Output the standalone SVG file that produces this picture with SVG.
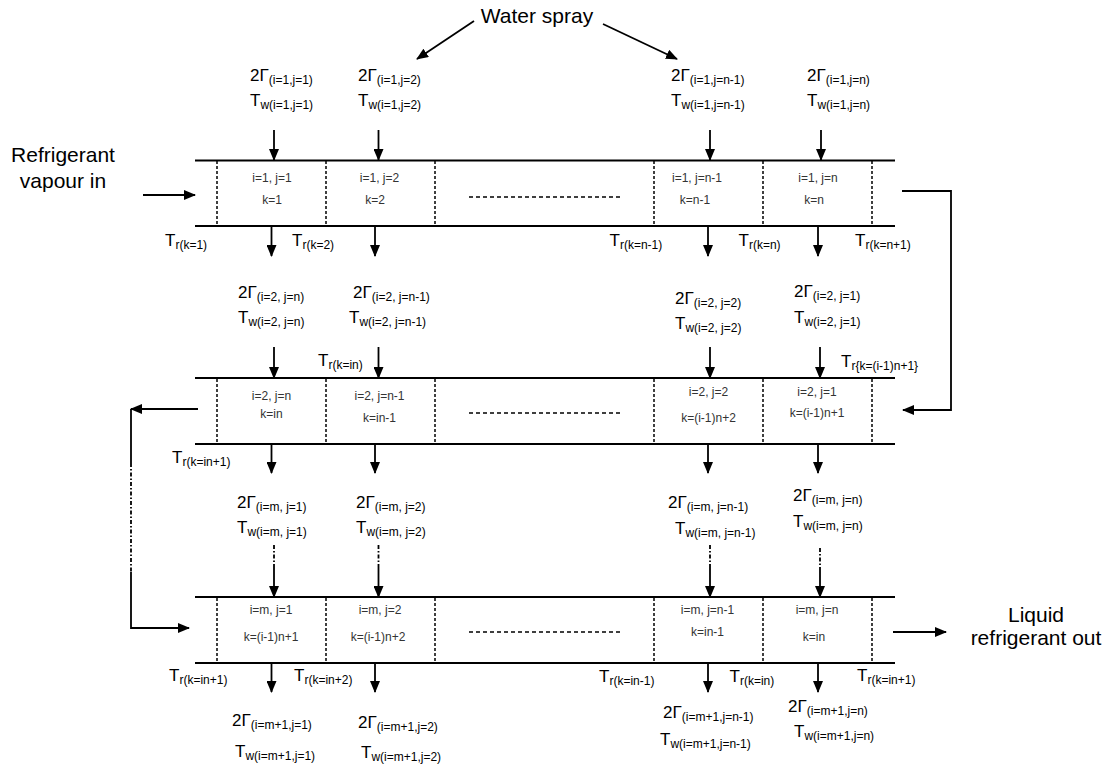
<svg xmlns="http://www.w3.org/2000/svg" width="1116" height="767" viewBox="0 0 1116 767">
<style>
text{font-family:"Liberation Sans",Arial,sans-serif;fill:#000}
.big{font-size:21px;text-anchor:middle}
.lbl{font-size:17px}
.sub{font-size:12px}
.cell{font-size:12px;fill:#333;text-anchor:middle}
.pipe{stroke:#000;stroke-width:2;fill:none}
.div{stroke:#000;stroke-width:1.5;stroke-dasharray:3 2;fill:none}
.fill{stroke:#000;stroke-width:1.5;stroke-dasharray:4 3;fill:none}
.arr{stroke:#000;stroke-width:1.8;fill:none;marker-end:url(#ah)}
.ln{stroke:#000;stroke-width:1.8;fill:none}
.dl{stroke:#000;stroke-width:1.8;fill:none;stroke-dasharray:4 2 1.5 2}
</style>
<defs>
<marker id="ah" viewBox="0 0 12 10" markerWidth="12" markerHeight="10" refX="11" refY="5" orient="auto" markerUnits="userSpaceOnUse">
<path d="M0,0 L12,5 L0,10 z" fill="#000"/>
</marker>
</defs>
<rect width="1116" height="767" fill="#fff"/>

<g id="label-water-spray"><text class="big" x="537" y="23">Water spray</text></g>
<g id="label-inlet"><text class="big" x="63" y="162">Refrigerant</text><text class="big" x="63" y="188">vapour in</text></g>
<g id="label-outlet"><text class="big" x="1036" y="622">Liquid</text><text class="big" x="1036" y="645">refrigerant out</text></g>

<g id="row1">
<line class="pipe" x1="195" y1="160.5" x2="895" y2="160.5"/>
<line class="pipe" x1="195" y1="226" x2="895" y2="226"/>
<path class="div" d="M217,161V226M326,161V226M435,161V226M654,161V226M763,161V226M872,161V226"/>
<line class="fill" x1="469" y1="197" x2="623" y2="197"/>
<g id="cell-1-1"><text class="cell" x="272" y="182">i=1, j=1</text><text class="cell" x="272" y="204">k=1</text></g>
<g id="cell-1-2"><text class="cell" x="379.5" y="182">i=1, j=2</text><text class="cell" x="375" y="204">k=2</text></g>
<g id="cell-1-n-1"><text class="cell" x="697" y="182">i=1, j=n-1</text><text class="cell" x="695" y="204">k=n-1</text></g>
<g id="cell-1-n"><text class="cell" x="818" y="182">i=1, j=n</text><text class="cell" x="814" y="204">k=n</text></g>
</g>

<g id="row2">
<line class="pipe" x1="195" y1="378" x2="895" y2="378"/>
<line class="pipe" x1="195" y1="444" x2="895" y2="444"/>
<path class="div" d="M217,379V444M326,379V444M435,379V444M654,379V444M763,379V444M872,379V444"/>
<line class="fill" x1="469" y1="413" x2="623" y2="413"/>
<g id="cell-2-n"><text class="cell" x="271.5" y="400">i=2, j=n</text><text class="cell" x="271.5" y="418">k=in</text></g>
<g id="cell-2-n-1"><text class="cell" x="379.5" y="400">i=2, j=n-1</text><text class="cell" x="379.5" y="422">k=in-1</text></g>
<g id="cell-2-2"><text class="cell" x="708.5" y="396">i=2, j=2</text><text class="cell" x="708.5" y="422">k=(i-1)n+2</text></g>
<g id="cell-2-1"><text class="cell" x="817" y="396">i=2, j=1</text><text class="cell" x="817" y="417">k=(i-1)n+1</text></g>
</g>

<g id="row3">
<line class="pipe" x1="195" y1="597" x2="895" y2="597"/>
<line class="pipe" x1="195" y1="663" x2="895" y2="663"/>
<path class="div" d="M217,598V663M326,598V663M435,598V663M654,598V663M763,598V663M872,598V663"/>
<line class="fill" x1="469" y1="632" x2="623" y2="632"/>
<g id="cell-m-1"><text class="cell" x="271" y="614">i=m, j=1</text><text class="cell" x="271" y="641">k=(i-1)n+1</text></g>
<g id="cell-m-2"><text class="cell" x="380" y="614">i=m, j=2</text><text class="cell" x="378" y="641">k=(i-1)n+2</text></g>
<g id="cell-m-n-1"><text class="cell" x="707.5" y="614">i=m, j=n-1</text><text class="cell" x="707.5" y="636">k=in-1</text></g>
<g id="cell-m-n"><text class="cell" x="817" y="614">i=m, j=n</text><text class="cell" x="814" y="641">k=in</text></g>
</g>

<g id="labels-row1-in">
<text class="lbl" x="250" y="81">2Γ<tspan class="sub" dy="3">(i=1,j=1)</tspan></text>
<text class="lbl" x="250" y="106">T<tspan class="sub" dy="3">w(i=1,j=1)</tspan></text>
<text class="lbl" x="358" y="81">2Γ<tspan class="sub" dy="3">(i=1,j=2)</tspan></text>
<text class="lbl" x="358" y="106">T<tspan class="sub" dy="3">w(i=1,j=2)</tspan></text>
<text class="lbl" x="671" y="81">2Γ<tspan class="sub" dy="3">(i=1,j=n-1)</tspan></text>
<text class="lbl" x="671" y="106">T<tspan class="sub" dy="3">w(i=1,j=n-1)</tspan></text>
<text class="lbl" x="807" y="81">2Γ<tspan class="sub" dy="3">(i=1,j=n)</tspan></text>
<text class="lbl" x="807" y="106">T<tspan class="sub" dy="3">w(i=1,j=n)</tspan></text>
</g>

<g id="labels-row1-tr">
<text class="lbl" x="165" y="246">T<tspan class="sub" dy="3">r(k=1)</tspan></text>
<text class="lbl" x="292" y="246">T<tspan class="sub" dy="3">r(k=2)</tspan></text>
<text class="lbl" x="609.5" y="246">T<tspan class="sub" dy="3">r(k=n-1)</tspan></text>
<text class="lbl" x="738.5" y="246">T<tspan class="sub" dy="3">r(k=n)</tspan></text>
<text class="lbl" x="855" y="246">T<tspan class="sub" dy="3">r(k=n+1)</tspan></text>
</g>

<g id="labels-row2-in">
<text class="lbl" x="238" y="298">2Γ<tspan class="sub" dy="3">(i=2, j=n)</tspan></text>
<text class="lbl" x="238" y="323">T<tspan class="sub" dy="3">w(i=2, j=n)</tspan></text>
<text class="lbl" x="353" y="298">2Γ<tspan class="sub" dy="3">(i=2, j=n-1)</tspan></text>
<text class="lbl" x="349" y="323">T<tspan class="sub" dy="3">w(i=2, j=n-1)</tspan></text>
<text class="lbl" x="675" y="304">2Γ<tspan class="sub" dy="3">(i=2, j=2)</tspan></text>
<text class="lbl" x="675" y="329">T<tspan class="sub" dy="3">w(i=2, j=2)</tspan></text>
<text class="lbl" x="794" y="297">2Γ<tspan class="sub" dy="3">(i=2, j=1)</tspan></text>
<text class="lbl" x="794" y="323">T<tspan class="sub" dy="3">w(i=2, j=1)</tspan></text>
<text class="lbl" x="318" y="366">T<tspan class="sub" dy="3">r(k=in)</tspan></text>
<text class="lbl" x="841" y="367">T<tspan class="sub" dy="3">r{k=(i-1)n+1}</tspan></text>
</g>

<g id="labels-row2-tr">
<text class="lbl" x="172" y="463">T<tspan class="sub" dy="3">r(k=in+1)</tspan></text>
</g>

<g id="labels-row3-in">
<text class="lbl" x="237" y="508">2Γ<tspan class="sub" dy="3">(i=m, j=1)</tspan></text>
<text class="lbl" x="237" y="533">T<tspan class="sub" dy="3">w(i=m, j=1)</tspan></text>
<text class="lbl" x="356" y="508">2Γ<tspan class="sub" dy="3">(i=m, j=2)</tspan></text>
<text class="lbl" x="356" y="533">T<tspan class="sub" dy="3">w(i=m, j=2)</tspan></text>
<text class="lbl" x="668" y="508">2Γ<tspan class="sub" dy="3">(i=m, j=n-1)</tspan></text>
<text class="lbl" x="675" y="534">T<tspan class="sub" dy="3">w(i=m, j=n-1)</tspan></text>
<text class="lbl" x="793" y="501">2Γ<tspan class="sub" dy="3">(i=m, j=n)</tspan></text>
<text class="lbl" x="793" y="527">T<tspan class="sub" dy="3">w(i=m, j=n)</tspan></text>
</g>

<g id="labels-row3-tr">
<text class="lbl" x="169" y="681">T<tspan class="sub" dy="3">r(k=in+1)</tspan></text>
<text class="lbl" x="294" y="681">T<tspan class="sub" dy="3">r(k=in+2)</tspan></text>
<text class="lbl" x="599" y="682">T<tspan class="sub" dy="3">r(k=in-1)</tspan></text>
<text class="lbl" x="729.5" y="682">T<tspan class="sub" dy="3">r(k=in)</tspan></text>
<text class="lbl" x="857" y="681">T<tspan class="sub" dy="3">r(k=in+1)</tspan></text>
</g>

<g id="labels-row4-out">
<text class="lbl" x="232" y="726">2Γ<tspan class="sub" dy="3">(i=m+1,j=1)</tspan></text>
<text class="lbl" x="235" y="757">T<tspan class="sub" dy="3">w(i=m+1,j=1)</tspan></text>
<text class="lbl" x="358" y="728">2Γ<tspan class="sub" dy="3">(i=m+1,j=2)</tspan></text>
<text class="lbl" x="361" y="758">T<tspan class="sub" dy="3">w(i=m+1,j=2)</tspan></text>
<text class="lbl" x="663" y="718">2Γ<tspan class="sub" dy="3">(i=m+1,j=n-1)</tspan></text>
<text class="lbl" x="660" y="745">T<tspan class="sub" dy="3">w(i=m+1,j=n-1)</tspan></text>
<text class="lbl" x="788" y="712">2Γ<tspan class="sub" dy="3">(i=m+1,j=n)</tspan></text>
<text class="lbl" x="794" y="737">T<tspan class="sub" dy="3">w(i=m+1,j=n)</tspan></text>
</g>

<g id="connectors">
<line class="arr" x1="474" y1="21" x2="417" y2="59"/>
<line class="arr" x1="603" y1="24" x2="677" y2="59"/>
<line class="arr" x1="143" y1="195" x2="195" y2="195"/>
<line class="arr" x1="893" y1="632" x2="946" y2="632"/>
<path class="arr" d="M902,191H951V410H903"/>
<path class="arr" d="M198,409H131"/>
<path class="ln" d="M131,409V463"/>
<path class="dl" d="M131,463V572"/>
<path class="arr" d="M131,572V628H189"/>
<line class="arr" x1="274" y1="130" x2="274" y2="160"/>
<line class="arr" x1="378.5" y1="130" x2="378.5" y2="160"/>
<line class="arr" x1="710" y1="130" x2="710" y2="160"/>
<line class="arr" x1="821" y1="130" x2="821" y2="160"/>
<line class="arr" x1="271.5" y1="226" x2="271.5" y2="256"/>
<line class="arr" x1="375" y1="226" x2="375" y2="256"/>
<line class="arr" x1="708" y1="226" x2="708" y2="256"/>
<line class="arr" x1="818" y1="226" x2="818" y2="256"/>
<line class="arr" x1="274" y1="347" x2="274" y2="378"/>
<line class="arr" x1="378.5" y1="347" x2="378.5" y2="378"/>
<line class="arr" x1="710" y1="347" x2="710" y2="378"/>
<line class="arr" x1="820" y1="347" x2="820" y2="378"/>
<line class="arr" x1="271.5" y1="444" x2="271.5" y2="473"/>
<line class="arr" x1="375" y1="444" x2="375" y2="473"/>
<line class="arr" x1="708" y1="444" x2="708" y2="473"/>
<line class="arr" x1="818" y1="444" x2="818" y2="473"/>
<path class="dl" d="M274,545V567M378.5,545V567M710,545V567M820,548V567"/>
<line class="arr" x1="274" y1="567" x2="274" y2="597"/>
<line class="arr" x1="378.5" y1="567" x2="378.5" y2="597"/>
<line class="arr" x1="710" y1="567" x2="710" y2="597"/>
<line class="arr" x1="820" y1="567" x2="820" y2="597"/>
<line class="arr" x1="271.5" y1="663" x2="271.5" y2="692"/>
<line class="arr" x1="375" y1="663" x2="375" y2="692"/>
<line class="arr" x1="708" y1="663" x2="708" y2="692"/>
<line class="arr" x1="818" y1="663" x2="818" y2="692"/>
</g>
</svg>
